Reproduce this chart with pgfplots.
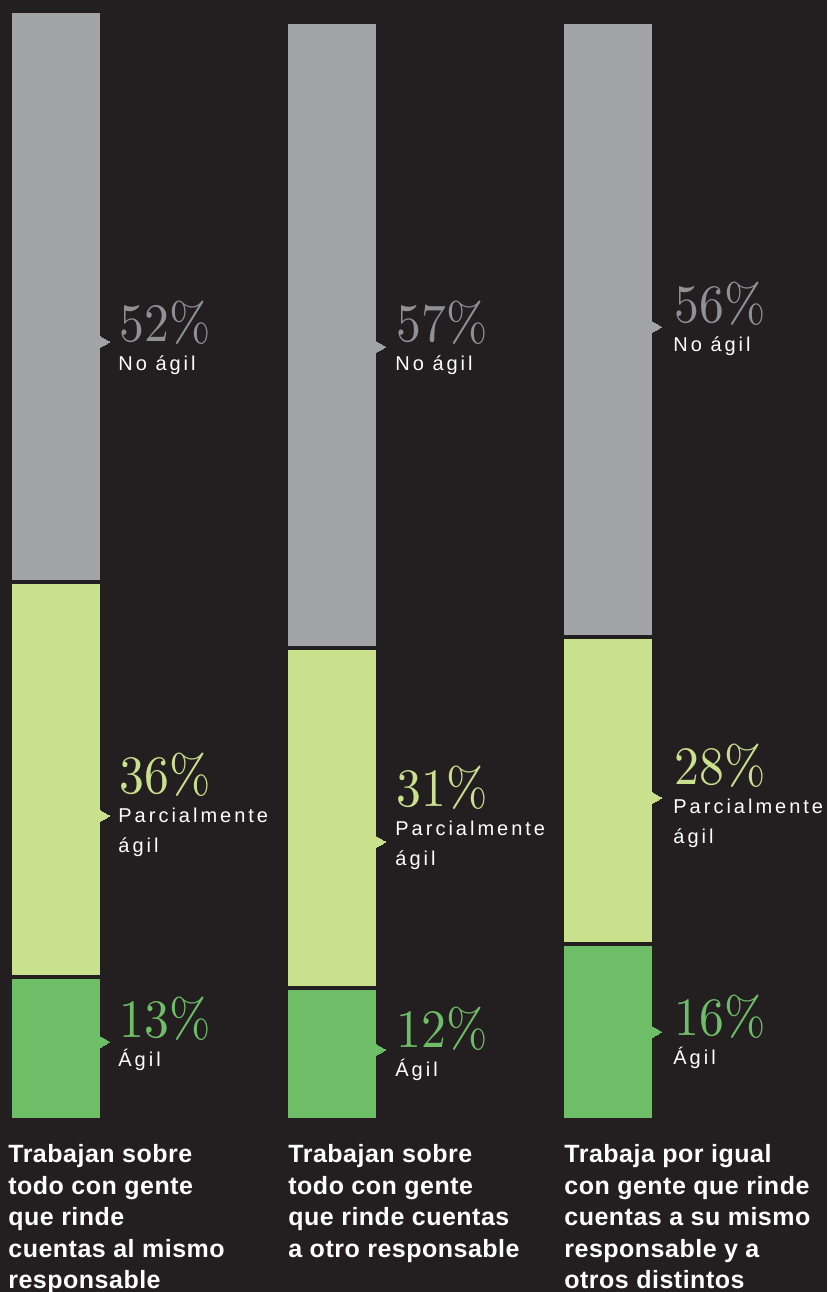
\documentclass[border=0pt]{standalone}
\usepackage{pgfplots}
\pgfplotsset{compat=1.18}
\usepackage{graphicx}
\usepackage{fontspec}
\newfontfamily\namefont[LetterSpace=15]{Liberation Sans}
\newfontfamily\catfont[LetterSpace=2]{Liberation Sans}
\newfontfamily\numfont[Extension=.otf]{lmroman10-regular}
\definecolor{bg}{HTML}{231F20}
\definecolor{cgrey}{HTML}{A2A3A7}
\definecolor{cgreynum}{HTML}{909195}
\definecolor{clight}{HTML}{C9E08D}
\definecolor{cgreen}{HTML}{6EBE68}
\newcommand{\pct}[1]{\scalebox{0.92}[1]{#1\%}}
\tikzset{
  num/.style={anchor=base west, inner sep=0pt, font=\numfont\fontsize{27}{27}\selectfont},
  nm/.style={anchor=base west, inner sep=0pt, yshift=-14.5pt, align=left, text=white, font=\namefont\fontsize{10}{15}\selectfont},
  nm2/.style={nm, yshift=-15pt},
  cat/.style={anchor=base west, inner sep=0pt, align=left, text=white, font=\catfont\bfseries\fontsize{12.5}{15.75}\selectfont},
}
\begin{document}
\begin{tikzpicture}
\useasboundingbox (0,0) rectangle (413.5pt,646pt);
\fill[bg] (0,0) rectangle (413.5pt,646pt);
\begin{axis}[
  at={(0,0)}, anchor=south west,
  width=413.5pt, height=646pt, scale only axis,
  xmin=0, xmax=827, ymin=-15.665, ymax=102.004,
  hide axis, clip=false,
  ybar stacked, bar width=92,
  every axis plot/.append style={draw=bg, line width=2pt},
]
% Agil
\addplot[fill=cgreen] coordinates {(56,13) (332,12) (608,16)};
% Parcialmente agil
\addplot[fill=clight] coordinates {(56,36) (332,31) (608,28)};
% No agil
\addplot[fill=cgrey] coordinates {(56,52) (332,57) (608,56)};
\end{axis}
\begin{axis}[
  at={(0,0)}, anchor=south west,
  width=413.5pt, height=646pt, scale only axis,
  xmin=0, xmax=827, ymin=-15.665, ymax=102.004,
  hide axis, clip=false,
]
\addplot[only marks, color=cgrey, mark=triangle*, mark size=3.8pt, mark options={rotate=-90, fill=cgrey, draw=cgrey, line width=0pt}] coordinates {(102,70.86) (378,70.40) (654,72.22)};
\addplot[only marks, color=clight, mark=triangle*, mark size=3.8pt, mark options={rotate=-90, fill=clight, draw=clight, line width=0pt}] coordinates {(102,27.69) (378,25.32) (654,29.33)};
\addplot[only marks, color=cgreen, mark=triangle*, mark size=3.8pt, mark options={rotate=-90, fill=cgreen, draw=cgreen, line width=0pt}] coordinates {(102,7.10) (378,6.38) (654,8.01)};
% labels bar 1
\node[num, text=cgreynum] at (axis cs:119,70.86) {\pct{52}};
\node[nm] at (axis cs:118,70.86) {No ágil};
\node[num, text=clight] at (axis cs:119,29.78) {\pct{36}};
\node[nm2] at (axis cs:118,29.78) {Parcialmente\\ágil};
\node[num, text=cgreen] at (axis cs:119,7.47) {\pct{13}};
\node[nm] at (axis cs:118,7.47) {Ágil};
% labels bar 2
\node[num, text=cgreynum] at (axis cs:396,70.86) {\pct{57}};
\node[nm] at (axis cs:395,70.86) {No ágil};
\node[num, text=clight] at (axis cs:396,28.51) {\pct{31}};
\node[nm2] at (axis cs:395,28.51) {Parcialmente\\ágil};
\node[num, text=cgreen] at (axis cs:396,6.56) {\pct{12}};
\node[nm] at (axis cs:395,6.56) {Ágil};
% labels bar 3
\node[num, text=cgreynum] at (axis cs:674,72.59) {\pct{56}};
\node[nm] at (axis cs:673,72.59) {No ágil};
\node[num, text=clight] at (axis cs:674,30.51) {\pct{28}};
\node[nm2] at (axis cs:673,30.51) {Parcialmente\\ágil};
\node[num, text=cgreen] at (axis cs:674,7.74) {\pct{16}};
\node[nm] at (axis cs:673,7.74) {Ágil};
% category labels (base = last line)
\node[cat] at (axis cs:8,-15.39) {Trabajan sobre\\todo con gente\\que rinde\\cuentas al mismo\\responsable};
\node[cat] at (axis cs:288,-12.52) {Trabajan sobre\\todo con gente\\que rinde cuentas\\a otro responsable};
\node[cat] at (axis cs:564,-15.39) {Trabaja por igual\\con gente que rinde\\cuentas a su mismo\\responsable y a\\otros distintos};
\end{axis}
\end{tikzpicture}
\end{document}
